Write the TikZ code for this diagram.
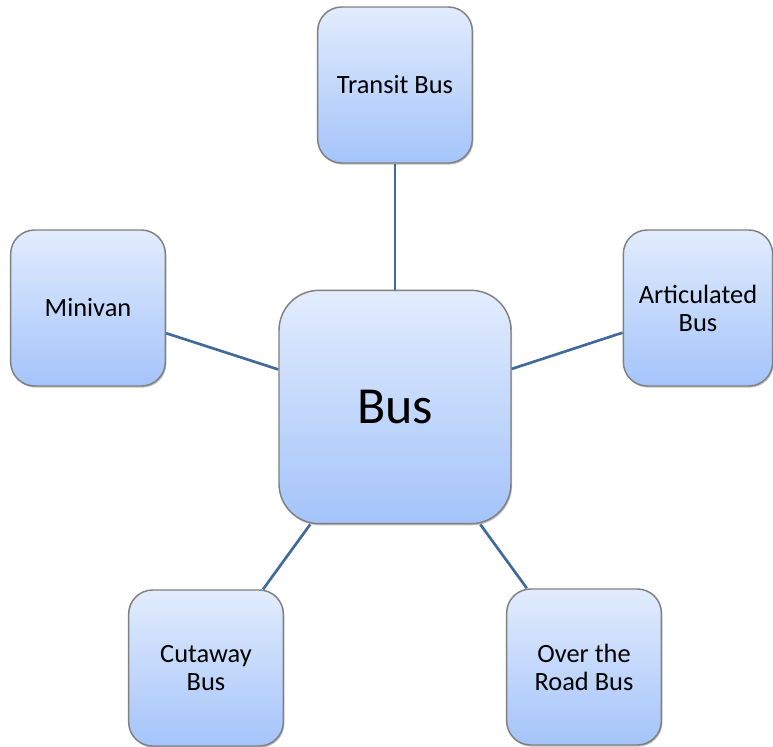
\documentclass[tikz,border=0pt]{standalone}
\usepackage{fontspec}
\setmainfont{Carlito}
\usetikzlibrary{shadows}
\definecolor{boxtop}{RGB}{226,236,253}
\definecolor{boxbottom}{RGB}{164,196,250}
\definecolor{boxedge}{RGB}{128,128,128}
\definecolor{linkblue}{RGB}{63,106,154}
\begin{document}
\begin{tikzpicture}[x=0.75pt,y=-0.75pt,
  card/.style={draw=boxedge, line width=1.1pt, top color=boxtop, bottom color=boxbottom,
    rounded corners=18pt, minimum width=116pt, minimum height=117pt,
    align=center, inner sep=2pt,
    font=\fontsize{19.8}{21}\selectfont,
    drop shadow={shadow xshift=0.8pt, shadow yshift=-1.2pt, opacity=0.25, fill=black}},
  hub/.style={card, rounded corners=30pt, minimum width=174pt, minimum height=175pt,
    font=\fontsize{39}{44}\selectfont},
  link/.style={draw=linkblue, line width=2pt}]
\useasboundingbox (0,0) rectangle (773,746);
% hub and spokes
\node[hub]  (bus)     at (395,407) {Bus};
\node[card] (transit) at (395,85)  {Transit Bus};
\node[card] (minivan) at (88,308)  {Minivan};
\node[card, minimum width=112pt] (artic) at (698,308) {Articulated\\Bus};
\node[card] (cutaway) at (206,668) {Cutaway\\Bus};
\node[card] (otr)     at (584,667) {Over the\\Road Bus};
% connectors
\draw[link] (transit) -- (bus);
\draw[link] (minivan) -- (bus);
\draw[link] (artic) -- (bus);
\draw[link] (cutaway) -- (bus);
\draw[link] (otr) -- (bus);
\end{tikzpicture}
\end{document}
